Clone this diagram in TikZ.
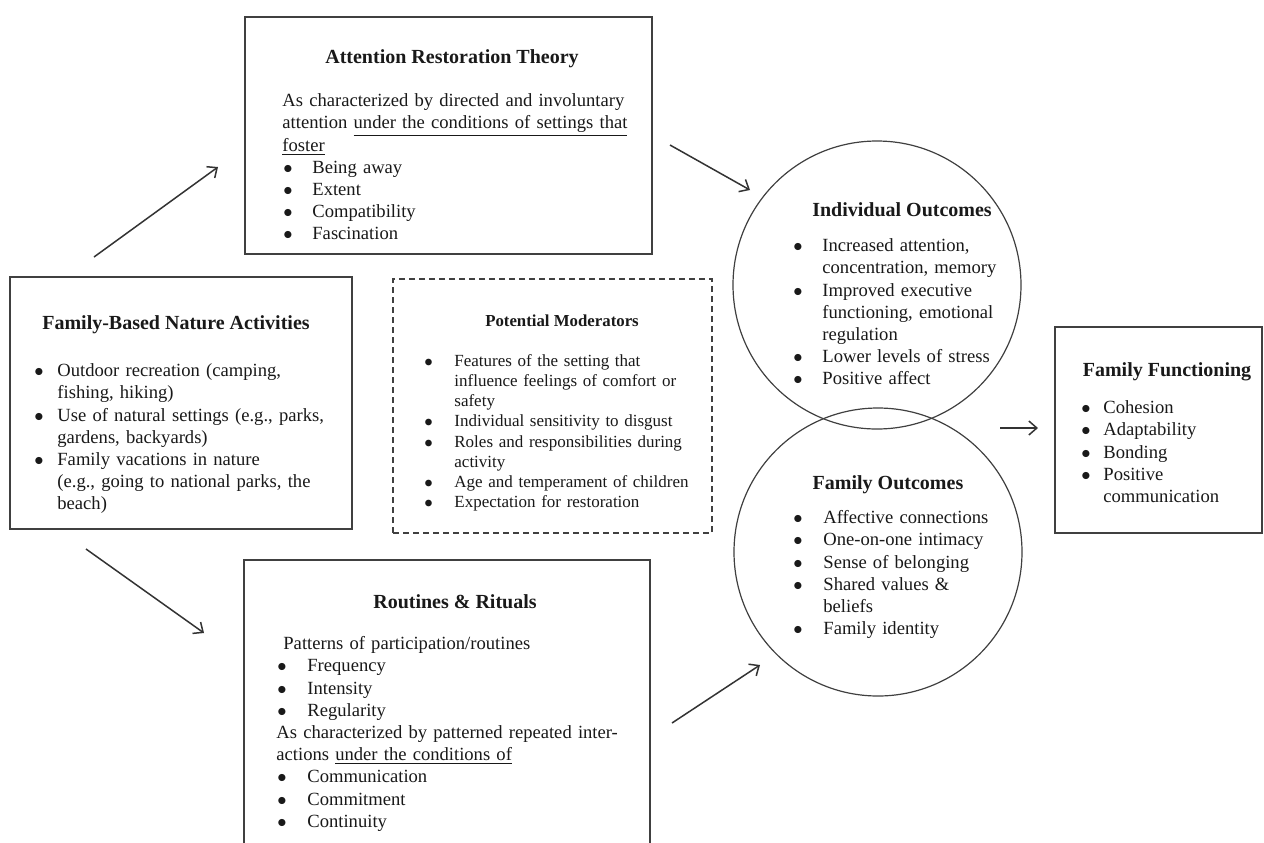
\documentclass[tikz,border=0pt]{standalone}
\usepackage{fontspec}
\setmainfont{Liberation Serif}
\usetikzlibrary{arrows.meta,fit}

\newlength{\bpos}
\newlength{\btext}
\newcommand{\bdot}{$\bullet$}
\newcommand{\bitem}[1]{\par\noindent\hangindent=\btext\hangafter=1\hbox to \btext{\hskip\bpos\bdot\hfil}#1\par}
\newcommand{\pline}[1]{\par\noindent#1\par}

\tikzset{
	boxframe/.style={draw=black!75, line width=0.8pt, inner sep=0},
	modframe/.style={draw=black!75, line width=0.7pt, dash pattern=on 3pt off 2pt, inner sep=0},
	outcome/.style={circle, draw=black!75, line width=0.6pt, minimum size=144pt, inner sep=0},
	heading/.style={anchor=base, font=\bfseries\fontsize{10}{12}\selectfont, text=black!90},
	body/.style={anchor=north west, inner sep=0, text width=230pt, align=left, font=\fontsize{9.3}{11.1}\selectfont, text=black!90},
	bullets/.style 2 args={execute at begin node={\setlength{\bpos}{#1}\setlength{\btext}{#2}}},
	arr/.style={->, >={Straight Barb[length=4pt,width=7pt]}, draw=black!80, line width=0.75pt}
}

\begin{document}
\begin{tikzpicture}[x=0.5pt, y=-0.5pt]
	\clip (0,0) rectangle (1264,842);
	\fill[white] (0,0) rectangle (1264,842);
	
	%%%% attention restoration theory
	\node[boxframe, fit={(245,17) (652,254)}] (art) {};
	\node[heading] (artttl) at (452,63) {Attention Restoration Theory};
	\node[body, bullets={0.5pt}{15pt}] (arttxt) at (282,84) {%
		\pline{As characterized by directed and involuntary}%
		\pline{attention \underline{under the conditions of settings that}}%
		\pline{\underline{foster}}%
		\bitem{Being away}%
		\bitem{Extent}%
		\bitem{Compatibility}%
		\bitem{Fascination}};
	
	%%%% family-based nature activities
	\node[boxframe, fit={(10,277) (352,529)}] (fbna) {};
	\node[heading] (fbnattl) at (176,329) {Family-Based Nature Activities};
	\node[body, bullets={0pt}{11.5pt}] (fbnatxt) at (34,354) {%
		\bitem{Outdoor recreation (camping,\newline fishing, hiking)}%
		\bitem{Use of natural settings (e.g., parks,\newline gardens, backyards)}%
		\bitem{Family vacations in nature\newline (e.g., going to national parks, the\newline beach)}};
	
	%%%% moderators
	\node[modframe, fit={(393,279) (712,533)}] (mods) {};
	\node[heading, font=\bfseries\fontsize{8.4}{10}\selectfont] (modsttl) at (562,326) {Potential Moderators};
	\node[body, font=\fontsize{8.5}{10.07}\selectfont, bullets={0pt}{15pt}] (modstxt) at (424,346) {%
		\bitem{Features of the setting that\newline influence feelings of comfort or\newline safety}%
		\bitem{Individual sensitivity to disgust}%
		\bitem{Roles and responsibilities during\newline activity}%
		\bitem{Age and temperament of children}%
		\bitem{Expectation for restoration}};
	
	%%%% routines and rituals
	\node[boxframe, fit={(244,560) (650,880)}] (rr) {};
	\node[heading] (rrttl) at (455,608) {Routines \& Rituals};
	\node[body, bullets={0.5pt}{15.5pt}] (rrtxt) at (276,627) {%
		\pline{\hspace*{3.5pt}Patterns of participation/routines}%
		\bitem{Frequency}%
		\bitem{Intensity}%
		\bitem{Regularity}%
		\pline{As characterized by patterned repeated inter-\newline actions \underline{under the conditions of}}%
		\bitem{Communication}%
		\bitem{Commitment}%
		\bitem{Continuity}};
	
	%%%% outcomes
	\node[outcome] (indiv) at (877,285) {};
	\node[heading] (indivttl) at (902,216) {Individual Outcomes};
	\node[body, bullets={0pt}{14.5pt}] (indivtxt) at (793,229) {%
		\bitem{Increased attention,\newline concentration, memory}%
		\bitem{Improved executive\newline functioning, emotional\newline regulation}%
		\bitem{Lower levels of stress}%
		\bitem{Positive affect}};
	
	\node[outcome] (fam) at (878,552) {};
	\node[heading] (famttl) at (888,489) {Family Outcomes};
	\node[body, bullets={0pt}{15pt}] (famtxt) at (793,501) {%
		\bitem{Affective connections}%
		\bitem{One-on-one intimacy}%
		\bitem{Sense of belonging}%
		\bitem{Shared values \&\newline beliefs}%
		\bitem{Family identity}};
	
	%%%% family functioning
	\node[boxframe, fit={(1055,327) (1262,533)}] (ff) {};
	\node[heading] (ffttl) at (1167,376) {Family Functioning};
	\node[body, bullets={0pt}{11pt}] (fftxt) at (1081,391) {%
		\bitem{Cohesion}%
		\bitem{Adaptability}%
		\bitem{Bonding}%
		\bitem{Positive\newline communication}};
	
	%%%% arrows
	\coordinate (a1s) at (94,257);
	\coordinate (a1e) at (218,167);
	\coordinate (a2s) at (670,145);
	\coordinate (a2e) at (750,190);
	\coordinate (a3s) at (86,549);
	\coordinate (a3e) at (204,633);
	\coordinate (a4s) at (672,723);
	\coordinate (a4e) at (760,665);
	\coordinate (a5s) at (1000,428);
	\coordinate (a5e) at (1038,428);
	\draw[arr] (a1s) -- (a1e);
	\draw[arr] (a2s) -- (a2e);
	\draw[arr] (a3s) -- (a3e);
	\draw[arr] (a4s) -- (a4e);
	\draw[arr] (a5s) -- (a5e);
\end{tikzpicture}
\end{document}
